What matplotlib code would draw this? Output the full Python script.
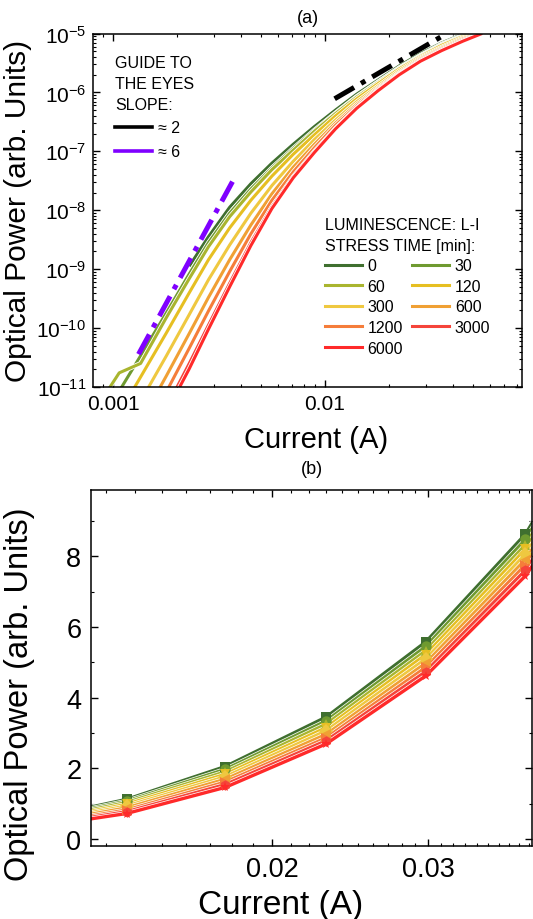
import numpy as np
import matplotlib
matplotlib.use('Agg')
import matplotlib.pyplot as plt
import matplotlib.patheffects as pe
from matplotlib.lines import Line2D
from matplotlib.ticker import LogLocator, FixedLocator, NullFormatter, MultipleLocator

plt.rcParams['font.family'] = ['Liberation Sans', 'DejaVu Sans']
plt.rcParams['mathtext.default'] = 'regular'

stress_times = ['0', '30', '60', '120', '300', '600', '1200', '3000', '6000']
colors = ['#3f6f2f', '#6f9a30', '#a9b52f', '#e6bf22', '#efc840',
          '#f0a034', '#f57d3a', '#f5443a', '#ff2a2a']
markers = ['s', 'o', '^', 'v', 'D', '<', '>', 'h', '*']

# ---------------- panel (a): log-log L-I ----------------
current_a = [0.000891, 0.00107, 0.00135, 0.00178, 0.00229, 0.00282, 0.00355,
             0.00447, 0.00562, 0.00708, 0.00891, 0.0112, 0.0141, 0.0178,
             0.0224, 0.0282, 0.0355, 0.0447, 0.0550]
nan = float('nan')
log_power_0 = [nan, nan, nan, nan, -8.95, -8.45, -7.95, -7.55, -7.20, -6.88,
               -6.58, -6.30, -6.03, -5.79, -5.55, -5.34, -5.16, -5.01, -4.90]
log_power_30 = [-11.55, -11.07, -10.47, -9.75, -9.08, -8.55, -8.05, -7.64, -7.28,
                -6.95, -6.64, -6.35, -6.07, -5.82, -5.58, -5.37, -5.18, -5.03, -4.94]
log_power_60 = [-11.20, -10.76, -10.60, -9.83, -9.16, -8.62, -8.11, -7.69, -7.31,
                -6.98, -6.66, -6.36, -6.08, -5.83, -5.59, -5.38, -5.19, -5.04, -4.94]
log_power_120 = [-11.94, -11.45, -10.83, -10.09, -9.40, -8.84, -8.30, -7.83, -7.42,
                 -7.05, -6.72, -6.40, -6.11, -5.85, -5.60, -5.39, -5.20, -5.05, -4.95]
log_power_300 = [-12.39, -11.88, -11.24, -10.48, -9.77, -9.18, -8.59, -8.05, -7.58,
                 -7.17, -6.80, -6.47, -6.16, -5.89, -5.63, -5.41, -5.23, -5.07, -4.97]
log_power_600 = [-12.78, -12.25, -11.60, -10.82, -10.09, -9.48, -8.84, -8.25, -7.72,
                 -7.27, -6.88, -6.52, -6.20, -5.92, -5.66, -5.43, -5.25, -5.09, -4.98]
log_power_1200 = [-13.09, -12.56, -11.88, -11.09, -10.34, -9.71, -9.04, -8.40, -7.83,
                  -7.35, -6.94, -6.56, -6.23, -5.94, -5.68, -5.45, -5.27, -5.11, -4.99]
log_power_3000 = [-13.40, -12.86, -12.17, -11.36, -10.60, -9.95, -9.24, -8.55, -7.94,
                  -7.43, -7.00, -6.61, -6.26, -5.96, -5.69, -5.47, -5.29, -5.13, -5.00]
log_power_6000 = [-13.50, -12.95, -12.26, -11.44, -10.69, -10.02, -9.30, -8.60, -7.97,
                  -7.45, -7.02, -6.62, -6.27, -5.97, -5.70, -5.47, -5.29, -5.13, -5.00]
log_powers_a = [log_power_0, log_power_30, log_power_60, log_power_120, log_power_300,
                log_power_600, log_power_1200, log_power_3000, log_power_6000]

# guide-to-the-eye lines
guide2_current = [0.0111, 0.0375]
guide2_power = [7.8e-7, 1.0e-5]
guide6_current = [0.00132, 0.00372]
guide6_power = [3.6e-11, 3.4e-8]

# ---------------- panel (b): linear L-I ----------------
current_b = [0.0106, 0.0137, 0.0177, 0.0230, 0.0298, 0.0386, 0.0500]
power_b_0 = [0.52, 1.12, 2.05, 3.45, 5.58, 8.63, 13.3]
power_b_30 = [0.49, 1.07, 1.97, 3.34, 5.45, 8.48, 13.1]
power_b_60 = [0.46, 1.03, 1.90, 3.25, 5.33, 8.33, 12.9]
power_b_120 = [0.43, 0.98, 1.83, 3.15, 5.22, 8.20, 12.7]
power_b_300 = [0.41, 0.93, 1.76, 3.06, 5.10, 8.06, 12.5]
power_b_600 = [0.38, 0.88, 1.69, 2.96, 4.98, 7.91, 12.3]
power_b_1200 = [0.35, 0.82, 1.61, 2.86, 4.86, 7.76, 12.1]
power_b_3000 = [0.33, 0.77, 1.54, 2.78, 4.74, 7.61, 11.9]
power_b_6000 = [0.30, 0.72, 1.46, 2.69, 4.62, 7.45, 11.6]
powers_b = [power_b_0, power_b_30, power_b_60, power_b_120, power_b_300,
            power_b_600, power_b_1200, power_b_3000, power_b_6000]

fig = plt.figure(figsize=(5.33, 9.2), dpi=100)
ax1 = fig.add_axes([93 / 533, 1 - 388 / 920, (522 - 93) / 533, (388 - 34.5) / 920])
ax2 = fig.add_axes([91 / 533, 1 - 847 / 920, (532 - 91) / 533, (847 - 491) / 920])

white_edge = [pe.Stroke(linewidth=3.4, foreground='white'), pe.Normal()]

for lp, c in zip(log_powers_a, colors):
    ax1.plot(current_a, np.power(10.0, np.array(lp)), color=c, lw=2.2,
             path_effects=white_edge, solid_capstyle='butt')

ax1.plot(guide2_current, guide2_power, color='black', lw=3.6,
         dashes=(4.5, 1.6, 1.0, 1.6), dash_capstyle='butt')
ax1.plot(guide6_current, guide6_power, color='#7f00ff', lw=3.6,
         dashes=(4.5, 1.6, 1.0, 1.6), dash_capstyle='butt')

ax1.set_xscale('log')
ax1.set_yscale('log')
ax1.set_xlim(0.000805, 0.0849)
ax1.set_ylim(1e-11, 1e-5)
ax1.set_xticks([0.001, 0.01])
ax1.set_xticklabels(['0.001', '0.01'])
ax1.xaxis.set_minor_locator(LogLocator(base=10, subs=np.arange(2, 10)))
ax1.xaxis.set_minor_formatter(NullFormatter())
ax1.yaxis.set_major_locator(LogLocator(base=10, numticks=20))
ax1.yaxis.set_minor_locator(LogLocator(base=10, subs=np.arange(2, 10), numticks=20))
ax1.yaxis.set_minor_formatter(NullFormatter())
ax1.tick_params(which='both', direction='in', top=True, right=True, labelsize=15)
ax1.tick_params(which='major', length=5, width=1.0, pad=5)
ax1.tick_params(which='minor', length=2.5, width=0.8)
ax1.set_xlabel('Current (A)', fontsize=21)
ax1.set_ylabel('Optical Power (arb. Units)', fontsize=21.5)
ax1.xaxis.set_label_coords(0.52, -0.108)
ax1.yaxis.set_label_coords(-0.142, 0.5)
ax1.set_title('(a)', fontsize=13, pad=8)
for s in ax1.spines.values():
    s.set_linewidth(1.1)

# legends panel (a)
guide_handles = [Line2D([], [], color='black', lw=2.6),
                 Line2D([], [], color='#7f00ff', lw=2.6)]
leg1 = ax1.legend(guide_handles, ['\u2248 2', '\u2248 6'],
                  title='GUIDE TO\nTHE EYES\nSLOPE:', loc='upper left',
                  bbox_to_anchor=(0.051, 0.94), frameon=False, fontsize=11.5,
                  title_fontsize=11.5, alignment='left', handlelength=2.3,
                  handletextpad=0.4, labelspacing=0.55, borderpad=0, borderaxespad=0)
leg1.get_title().set_linespacing(1.5)
ax1.add_artist(leg1)

stress_handles = [Line2D([], [], color=c, lw=2.2) for c in colors]
order = [0, 2, 4, 6, 8, 1, 3, 5, 7]
leg2 = ax1.legend([stress_handles[i] for i in order], [stress_times[i] for i in order],
                  title='LUMINESCENCE: L-I\nSTRESS TIME [min]:', loc='upper left',
                  bbox_to_anchor=(0.541, 0.48), frameon=False, ncol=2, fontsize=11.5,
                  title_fontsize=11.5, alignment='left', handlelength=2.3,
                  handletextpad=0.35, labelspacing=0.35, columnspacing=0.6,
                  borderpad=0, borderaxespad=0)
leg2.get_title().set_linespacing(1.45)

# ---------------- panel (b) ----------------
for p, c in zip(powers_b, colors):
    ax2.plot(current_b, p, color=c, lw=2.4, path_effects=white_edge)
for p, c, m in zip(powers_b, colors, markers):
    ax2.plot(current_b, p, linestyle='none', color=c, marker=m, markersize=7.5,
             markeredgewidth=0)

ax2.set_xscale('log')
ax2.set_xlim(0.01249, 0.03926)
ax2.set_ylim(-0.2, 9.88)
ax2.set_xticks([0.02, 0.03])
ax2.set_xticklabels(['0.02', '0.03'])
ax2.xaxis.set_minor_locator(FixedLocator([0.013, 0.014, 0.015, 0.016, 0.017, 0.018, 0.019,
                                          0.021, 0.022, 0.023, 0.024, 0.025, 0.026, 0.027,
                                          0.028, 0.029, 0.031, 0.032, 0.033, 0.034, 0.035,
                                          0.036, 0.037, 0.038, 0.039]))
ax2.xaxis.set_minor_formatter(NullFormatter())
ax2.yaxis.set_major_locator(MultipleLocator(2))
ax2.yaxis.set_minor_locator(MultipleLocator(1))
ax2.tick_params(which='both', direction='in', top=True, right=True, labelsize=19.5)
ax2.tick_params(which='major', length=5, width=1.0, pad=7)
ax2.tick_params(which='minor', length=2.5, width=0.8)
ax2.set_xlabel('Current (A)', fontsize=24)
ax2.set_ylabel('Optical Power (arb. Units)', fontsize=23.5)
ax2.xaxis.set_label_coords(0.43, -0.122)
ax2.yaxis.set_label_coords(-0.128, 0.43)
ax2.set_title('(b)', fontsize=13, pad=12)
for s in ax2.spines.values():
    s.set_linewidth(1.1)

fig.savefig('out.png', dpi=100)
